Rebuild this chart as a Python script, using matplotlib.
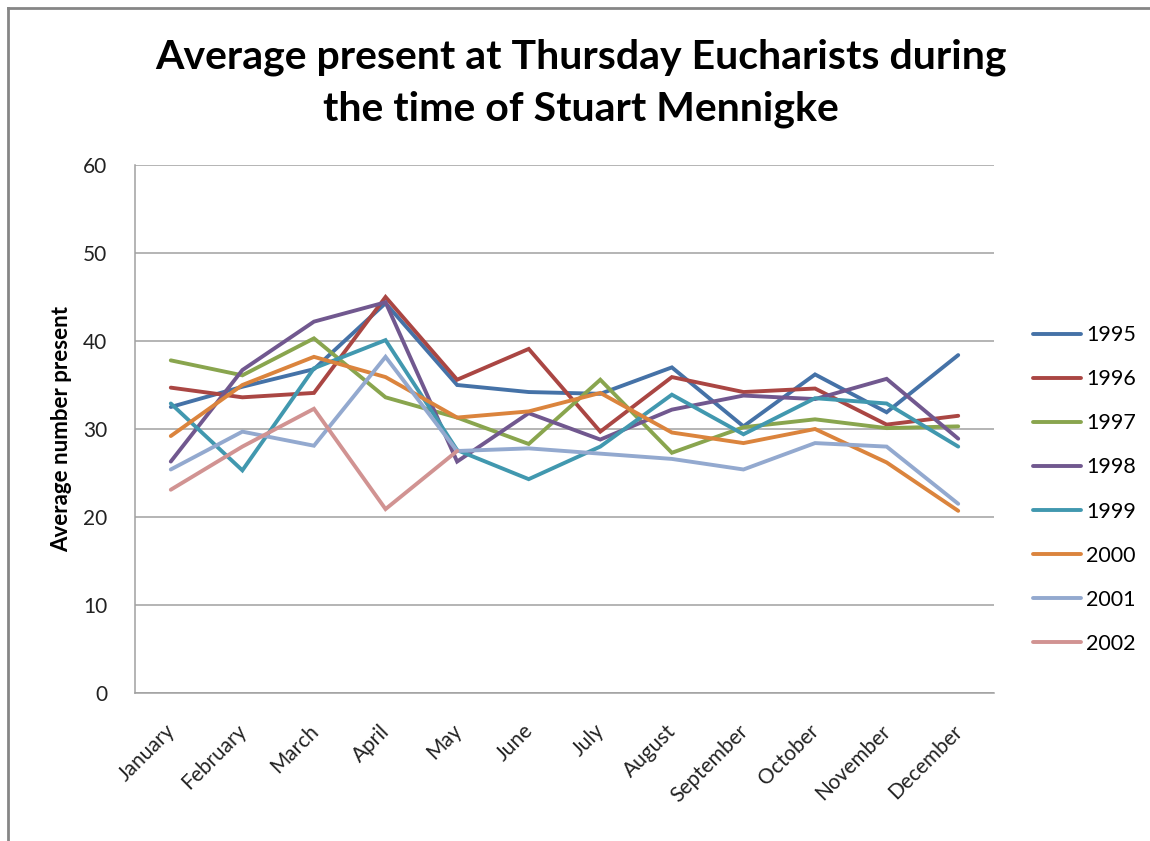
import matplotlib
matplotlib.use('Agg')
import matplotlib.pyplot as plt
import matplotlib.transforms as mtransforms
from matplotlib.lines import Line2D

months = ['January', 'February', 'March', 'April', 'May', 'June', 'July',
          'August', 'September', 'October', 'November', 'December']

y1995 = [32.5, 34.8, 36.8, 44.3, 35.0, 34.2, 34.0, 37.0, 30.3, 36.2, 31.9, 38.4]
y1996 = [34.7, 33.6, 34.1, 45.0, 35.6, 39.1, 29.7, 35.9, 34.2, 34.6, 30.5, 31.5]
y1997 = [37.8, 36.1, 40.3, 33.6, 31.3, 28.3, 35.6, 27.3, 30.2, 31.1, 30.1, 30.3]
y1998 = [26.3, 36.7, 42.2, 44.4, 26.3, 31.8, 28.8, 32.2, 33.8, 33.4, 35.7, 28.9]
y1999 = [32.9, 25.3, 36.9, 40.1, 27.6, 24.3, 28.0, 33.9, 29.4, 33.5, 32.9, 28.0]
y2000 = [29.2, 35.0, 38.2, 35.9, 31.3, 32.0, 34.1, 29.6, 28.4, 30.0, 26.2, 20.7]
y2001 = [25.4, 29.7, 28.1, 38.2, 27.5, 27.8, 27.2, 26.6, 25.4, 28.4, 28.0, 21.5]
y2002 = [23.1, 28.0, 32.3, 20.9, 27.5]

series = [('1995', y1995), ('1996', y1996), ('1997', y1997), ('1998', y1998),
          ('1999', y1999), ('2000', y2000), ('2001', y2001), ('2002', y2002)]
colors = ['#4572A7', '#AA4643', '#89A54E', '#71588F',
          '#4198AF', '#DB843D', '#93A9CF', '#D19392']

plt.rcParams['font.family'] = ['Lato', 'DejaVu Sans']

fig = plt.figure(figsize=(11.5, 8.41), dpi=100)
ax = fig.add_axes([135/1150, 1 - 693/841, (994-135)/1150, (693-165)/841])

for (name, vals), c in zip(series, colors):
    ax.plot(months[:len(vals)], vals, color=c, lw=2.8, label=name,
            solid_joinstyle='miter', solid_capstyle='round')

ax.set_xlim(-0.5, 11.5)
ax.set_ylim(0, 60)
ax.set_yticks(range(0, 61, 10))
ax.grid(axis='y', color='#A0A0A0', lw=1.1)
ax.set_axisbelow(True)
for s in ['top', 'right']:
    ax.spines[s].set_visible(False)
for s in ['left', 'bottom']:
    ax.spines[s].set_color('#A0A0A0')
    ax.spines[s].set_linewidth(1.1)
ax.tick_params(length=0, labelsize=15, colors='#222222', pad=20)
ax.tick_params(axis='x', pad=20)
shift = mtransforms.ScaledTranslation(-6/100, 0, fig.dpi_scale_trans)
for lbl in ax.get_xticklabels():
    lbl.set_rotation(45)
    lbl.set_ha('right')
    lbl.set_va('top')
    lbl.set_rotation_mode('anchor')
    lbl.set_transform(lbl.get_transform() + shift)

ax.set_ylabel('Average number present', fontsize=16, fontweight='bold', labelpad=8)

fig.text(0.505, 1 - 83/841, 'Average present at Thursday Eucharists during\nthe time of Stuart Mennigke',
         ha='center', va='center', fontsize=29.5, fontweight='bold', linespacing=1.5)

ax.legend(loc='center left', bbox_to_anchor=(1014/1150, 1 - 489.5/841),
          bbox_transform=fig.transFigure, frameon=False, fontsize=15.5,
          handlelength=2.2, handletextpad=0.25, labelspacing=1.12)

fig.add_artist(Line2D([8/1150, 1], [1 - 8/841, 1 - 8/841], color='#868686', lw=2))
fig.add_artist(Line2D([8/1150, 8/1150], [0, 1 - 8/841], color='#868686', lw=2))

fig.savefig('out.png', dpi=100)
